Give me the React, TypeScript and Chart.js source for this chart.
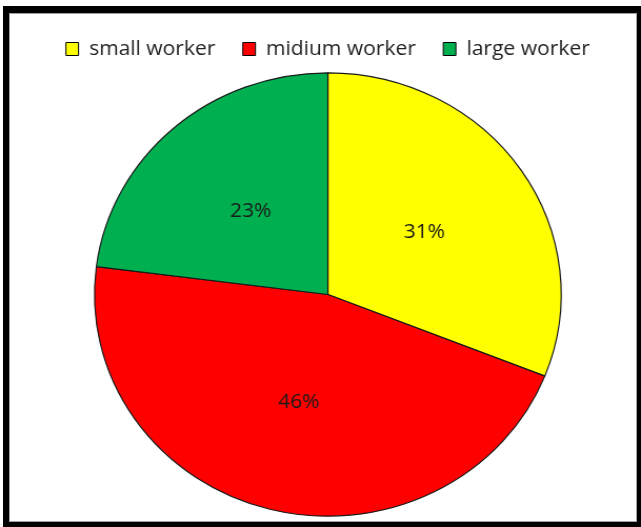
import React, { useEffect, useRef } from "react";
import { Chart, registerables } from "chart.js";

Chart.register(...registerables);

const categories = ["small worker", "midium worker", "large worker"];
const values = [31, 46, 23];
const colors = ["#FFFF00", "#FF0000", "#00B050"];

const CW = 609;
const CH = 527;
const SX = 641 / 609;

const pctLabels = {
  id: "pctLabels",
  afterDatasetsDraw(chart: any) {
    const ctx = chart.ctx;
    const meta = chart.getDatasetMeta(0);
    const data = chart.data.datasets[0].data as number[];
    const total = data.reduce((a, b) => a + b, 0);
    ctx.save();
    ctx.font = '20px "Open Sans"';
    ctx.fillStyle = "#1a1a1a";
    ctx.textAlign = "center";
    ctx.textBaseline = "middle";
    meta.data.forEach((arc: any, i: number) => {
      const { x, y, startAngle, endAngle, outerRadius } = arc.getProps(
        ["x", "y", "startAngle", "endAngle", "outerRadius"],
        true
      );
      const mid = (startAngle + endAngle) / 2;
      const r = outerRadius * 0.5;
      const txt = Math.round((data[i] / total) * 100) + "%";
      ctx.fillText(txt, x + Math.cos(mid) * r, y + Math.sin(mid) * r);
    });
    ctx.restore();
  },
};

export default function App() {
  const ref = useRef<HTMLCanvasElement | null>(null);
  useEffect(() => {
    if (!ref.current) return;
    const chart = new Chart(ref.current, {
      type: "pie",
      data: {
        labels: categories,
        datasets: [
          {
            data: values,
            backgroundColor: colors,
            borderColor: "#1a1a1a",
            borderWidth: 1.2,
            radius: 221.7,
          } as any,
        ],
      },
      options: {
        responsive: false,
        animation: false,
        devicePixelRatio: 1,
        layout: { padding: { top: 13, bottom: 7, left: 14, right: 0 } },
        plugins: {
          tooltip: { enabled: false },
          legend: {
            position: "top",
            labels: {
              boxWidth: 12,
              boxHeight: 13,
              padding: 26,
              color: "#222222",
              font: { family: '"Open Sans"', size: 20 },
              generateLabels: (c: any) =>
                c.data.labels.map((l: string, i: number) => ({
                  text: l,
                  fillStyle: colors[i],
                  strokeStyle: "#000000",
                  lineWidth: 1,
                  hidden: false,
                  index: i,
                  fontColor: "#222222",
                })),
            },
          },
        },
      },
      plugins: [pctLabels],
    });
    return () => chart.destroy();
  }, []);

  return (
    <div style={{ position: "fixed", left: 0, top: 0, width: 641, height: 527, overflow: "hidden", background: "#fff" }}>
      <div style={{ position: "absolute", left: 3, top: 6, width: 640, height: 523, background: "#000" }} />
      <div
        style={{
          position: "absolute",
          left: 9,
          top: 13,
          width: 628,
          height: 509,
          boxSizing: "border-box",
          border: "1px solid #a0a0a0",
          background: "#fff",
        }}
      />
      <div
        style={{
          position: "absolute",
          left: 0,
          top: 0,
          width: CW,
          height: CH,
          transform: `scaleX(${SX})`,
          transformOrigin: "0 0",
        }}
      >
        <canvas ref={ref} width={CW} height={CH} style={{ width: CW, height: CH, display: "block" }} />
      </div>
    </div>
  );
}
